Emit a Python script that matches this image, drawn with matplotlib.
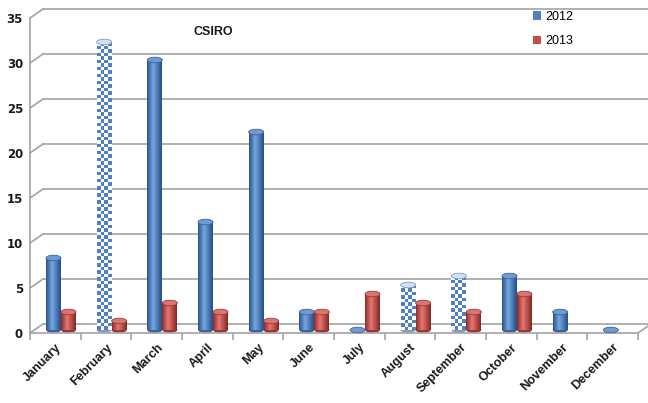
import numpy as np
import matplotlib.pyplot as plt
import matplotlib.transforms as mtrans
from matplotlib.patches import Ellipse, Patch, ConnectionPatch
from matplotlib.colors import LinearSegmentedColormap, ListedColormap

# data
months = ['January', 'February', 'March', 'April', 'May', 'June',
          'July', 'August', 'September', 'October', 'November', 'December']
vals_2012 = [8, 32, 30, 12, 22, 2, 0, 5, 6, 6, 2, 0]
vals_2013 = [2, 1, 3, 2, 1, 2, 4, 3, 2, 4, np.nan, np.nan]
checkered_2012 = [False, True, False, False, False, False, False, True, True, False, False, False]
yticks = [0, 5, 10, 15, 20, 25, 30, 35]
title = 'CSIRO'

plt.rcParams['font.family'] = ['Liberation Sans', 'DejaVu Sans']

gc = '#a3a3a3'   # grid / wall colour
txt = '#1a1a1a'

blue_cm = LinearSegmentedColormap.from_list('b', ['#2d5487', '#4a7bb8', '#79a5dc', '#5a8cc8', '#3d6ca6', '#2a4e7f'])
red_cm = LinearSegmentedColormap.from_list('r', ['#8a2e2b', '#bd4f4b', '#e07a76', '#cc5a56', '#a6413e', '#7c2a27'])
check_cm = ListedColormap(['#ffffff', '#4f80c4'])

fig = plt.figure(figsize=(6.48, 4.03), dpi=100)
ax = fig.add_axes([30/648, 70/403, 608/648, 315/403])

# back wall is drawn a bit up and right of the front, like the 3d look
back = mtrans.offset_copy(ax.transData, fig=fig, x=13, y=9, units='dots')
# bars stand in the middle of the floor depth, a little above the front edge
mid = mtrans.offset_copy(ax.transData, fig=fig, x=0, y=3, units='dots')

for v in yticks:
    ax.plot([-0.5, 11.5], [v, v], transform=back, color=gc, lw=1.2, clip_on=False, zorder=0)
    con = ConnectionPatch(xyA=(-0.5, v), coordsA=ax.transData, xyB=(-0.5, v), coordsB=back,
                          color=gc, lw=1.2, clip_on=False, zorder=0)
    ax.add_artist(con)
con = ConnectionPatch(xyA=(11.5, 0), coordsA=ax.transData, xyB=(11.5, 0), coordsB=back,
                      color=gc, lw=1.2, clip_on=False, zorder=0)
ax.add_artist(con)

bar_w = 0.296
cap_h = 0.62

def cylinder(x0, h, cmap, cap_col, edge_col, checker=False):
    if np.isnan(h):
        return
    cx = x0 + bar_w / 2
    if h > 0:
        if checker:
            rows = int(round(h * 9 / 3.5))
            img = (np.add.outer(np.arange(rows), np.arange(4)) % 2).astype(float)
            ax.imshow(img, extent=(x0, x0 + bar_w, 0, h), aspect='auto', cmap=cmap,
                      interpolation='nearest', zorder=2, transform=mid)
        else:
            grad = np.linspace(0, 1, 64)[None, :]
            ax.imshow(grad, extent=(x0, x0 + bar_w, 0, h), aspect='auto', cmap=cmap,
                      interpolation='bilinear', zorder=2, transform=mid)
        ax.add_patch(Ellipse((cx, 0), bar_w, cap_h, facecolor=edge_col, edgecolor='none',
                             zorder=1.9, clip_on=False, transform=mid))
    ax.add_patch(Ellipse((cx, h), bar_w, cap_h, facecolor=cap_col, edgecolor=edge_col,
                         lw=0.6, zorder=3, clip_on=False, transform=mid))

for i in range(len(months)):
    if checkered_2012[i]:
        cylinder(i - 0.184, vals_2012[i], check_cm, '#d3e0f1', '#7e9cc6', checker=True)
    else:
        cylinder(i - 0.184, vals_2012[i], blue_cm, '#6f9bd2', '#36649c')
    cylinder(i + 0.112, vals_2013[i], red_cm, '#dc7470', '#973a37')

ax.set_xlim(-0.5, 11.5)
ax.set_ylim(0, 35)

for s in ['top', 'right']:
    ax.spines[s].set_visible(False)
for s in ['left', 'bottom']:
    ax.spines[s].set_color(gc)
    ax.spines[s].set_linewidth(1.2)

ax.set_yticks(yticks)
ax.set_yticklabels([str(v) for v in yticks], fontsize=8.5, fontweight='bold', color=txt,
                   family=['DejaVu Sans'])
ax.tick_params(axis='y', length=0, pad=5)

ax.set_xticks(np.arange(len(months)))
ax.set_xticklabels(months, rotation=45, ha='right', rotation_mode='anchor',
                   fontsize=9, fontweight='bold', color=txt)
ax.set_xticks(np.arange(-0.5, len(months), 1), minor=True)
ax.tick_params(axis='x', which='major', length=0, pad=6)
ax.tick_params(axis='x', which='minor', length=5, color=gc, width=1.2)

fig.text(213/648, 1 - 32/403, title, ha='center', va='center', fontsize=9,
         fontweight='bold', color=txt)

handles = [Patch(facecolor='#4f81bd', label='2012'), Patch(facecolor='#c0504d', label='2013')]
fig.legend(handles=handles, loc='upper left', bbox_to_anchor=(533/648, 1 - 11/403),
           frameon=False, fontsize=9, handlelength=0.65, handleheight=0.65,
           handletextpad=0.3, labelspacing=1.0, borderpad=0, borderaxespad=0)

fig.savefig('out.png', dpi=100)
